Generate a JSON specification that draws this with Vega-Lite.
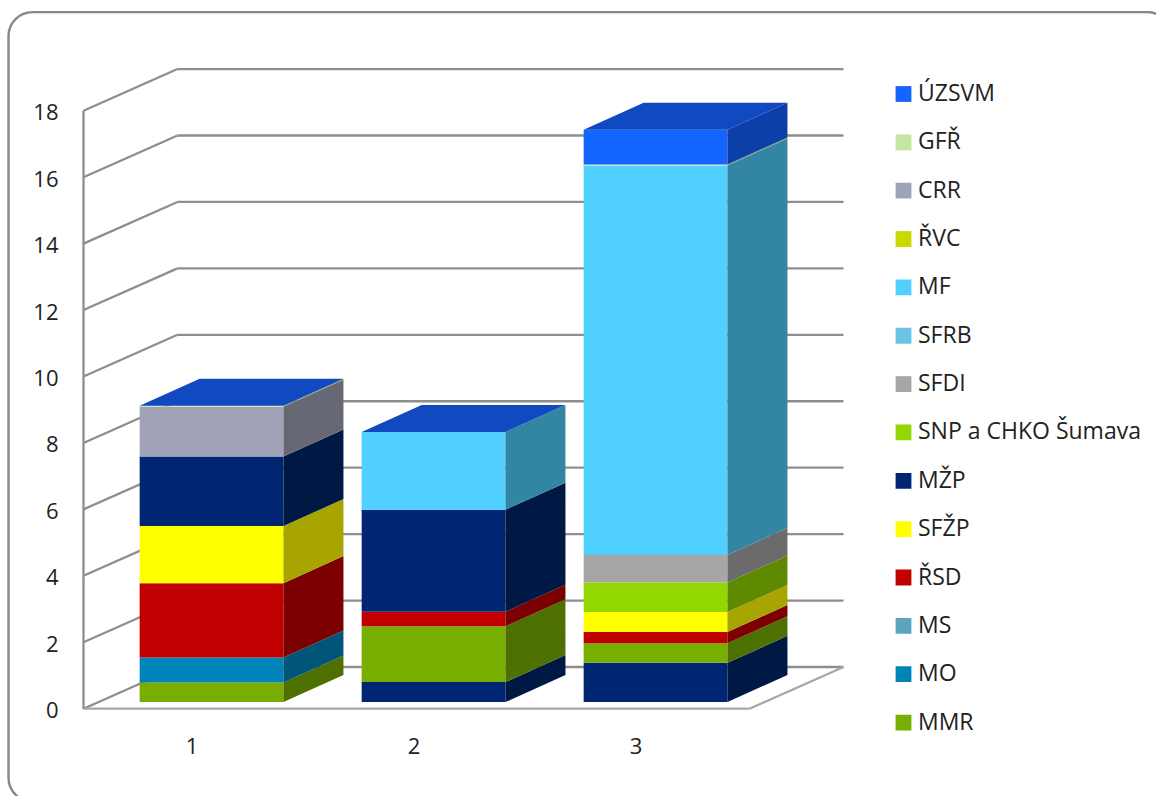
{"$schema":"https://vega.github.io/schema/vega-lite/v6.json","width":1156,"height":796,"padding":0,"autosize":"none","background":"#ffffff","config":{"view":{"stroke":null},"font":"Open Sans"},"layer":[
{"data":{"values":[{"name":"panel"}]},"transform":[{"calculate":"0.1622","as":"px1"},{"calculate":"5.40","as":"px2"},{"calculate":"20.97","as":"py1"},{"calculate":"-2.8","as":"py2"}],"mark":{"type":"rect","fill":"transparent","stroke":"#888888","strokeWidth":2.4,"cornerRadius":24,"clip":false},"encoding":{
"x":{"field":"px1","type":"quantitative","scale":{"domain":[0.1239,5.3311],"nice":false,"zero":false},"axis":{"values":[1,2,3],"format":"d","orient":"bottom","offset":-60,"labelPadding":0,"labelOffset":-3,"ticks":false,"domain":false,"grid":false,"title":null,"labelFontSize":22,"labelColor":"#222222","labelFont":"Open Sans","labelFlush":false,"labelOverlap":false,"labelBaseline":"top"}},
"x2":{"field":"px2"},
"y":{"field":"py1","type":"quantitative","scale":{"domain":[-2.628,21.334],"nice":false,"zero":false},"axis":{"values":[0,2,4,6,8,10,12,14,16,18],"format":"d","orient":"left","offset":-58,"labelPadding":0,"labelOffset":2,"ticks":false,"domain":false,"grid":false,"title":null,"labelFontSize":22,"labelColor":"#222222","labelFont":"Open Sans","labelOverlap":false}},
"y2":{"field":"py2"}}},
{"data":{"values":[{"tick":0},{"tick":2},{"tick":4},{"tick":6},{"tick":8},{"tick":10},{"tick":12},{"tick":14},{"tick":16},{"tick":18}]},
"transform":[{"calculate":"datum.tick+1.255","as":"back"},{"calculate":"0.5","as":"wl"},{"calculate":"0.9234","as":"wb"},{"calculate":"3.5","as":"wr"},{"calculate":"3.9234","as":"we"},{"calculate":"0","as":"base"}],
"layer":[
{"mark":{"type":"rule","stroke":"#8e8e8e","strokeWidth":2.3},"encoding":{"x":{"field":"wl","type":"quantitative","scale":{"domain":[0.1239,5.3311],"nice":false,"zero":false}},"x2":{"field":"wb"},"y":{"field":"tick","type":"quantitative","scale":{"domain":[-2.628,21.334],"nice":false,"zero":false}},"y2":{"field":"back"}}},
{"mark":{"type":"rule","stroke":"#8e8e8e","strokeWidth":2.3},"encoding":{"x":{"field":"wb","type":"quantitative","scale":{"domain":[0.1239,5.3311],"nice":false,"zero":false}},"x2":{"field":"we"},"y":{"field":"back","type":"quantitative","scale":{"domain":[-2.628,21.334],"nice":false,"zero":false}}}},
{"transform":[{"filter":"datum.tick===0"}],"mark":{"type":"rule","stroke":"#a8a8a8","strokeWidth":2.3},"encoding":{"x":{"field":"wl","type":"quantitative","scale":{"domain":[0.1239,5.3311],"nice":false,"zero":false}},"x2":{"field":"wr"},"y":{"field":"tick","type":"quantitative","scale":{"domain":[-2.628,21.334],"nice":false,"zero":false}}}},
{"transform":[{"filter":"datum.tick===0"}],"mark":{"type":"rule","stroke":"#a8a8a8","strokeWidth":2.3},"encoding":{"x":{"field":"wr","type":"quantitative","scale":{"domain":[0.1239,5.3311],"nice":false,"zero":false}},"x2":{"field":"we"},"y":{"field":"tick","type":"quantitative","scale":{"domain":[-2.628,21.334],"nice":false,"zero":false}},"y2":{"field":"back"}}},
{"transform":[{"filter":"datum.tick===18"}],"mark":{"type":"rule","stroke":"#8e8e8e","strokeWidth":2.3},"encoding":{"x":{"field":"wl","type":"quantitative","scale":{"domain":[0.1239,5.3311],"nice":false,"zero":false}},"y":{"field":"base","type":"quantitative","scale":{"domain":[-2.628,21.334],"nice":false,"zero":false}},"y2":{"field":"tick"}}}
]},
{"data":{"values":[
{"bar":1,"rank":1,"series":"MMR","value":0.59},
{"bar":1,"rank":2,"series":"MO","value":0.75},
{"bar":1,"rank":3,"series":"ŘSD","value":2.24},
{"bar":1,"rank":4,"series":"SFŽP","value":1.72},
{"bar":1,"rank":5,"series":"MŽP","value":2.09},
{"bar":1,"rank":6,"series":"CRR","value":1.5},
{"bar":1,"rank":7,"series":"GFŘ","value":0.03},
{"bar":1,"rank":8,"series":"ÚZSVM","value":0},
{"bar":2,"rank":0,"series":"MŽP","value":0.6},
{"bar":2,"rank":1,"series":"MMR","value":1.68},
{"bar":2,"rank":3,"series":"ŘSD","value":0.44},
{"bar":2,"rank":5,"series":"MŽP","value":3.07},
{"bar":2,"rank":6,"series":"MF","value":2.34},
{"bar":2,"rank":8,"series":"ÚZSVM","value":0},
{"bar":3,"rank":0,"series":"MŽP","value":1.18},
{"bar":3,"rank":1,"series":"MMR","value":0.59},
{"bar":3,"rank":3,"series":"ŘSD","value":0.34},
{"bar":3,"rank":4,"series":"SFŽP","value":0.6},
{"bar":3,"rank":5,"series":"SNP a CHKO Šumava","value":0.89},
{"bar":3,"rank":6,"series":"SFDI","value":0.83},
{"bar":3,"rank":7,"series":"MF","value":11.72},
{"bar":3,"rank":8,"series":"GFŘ","value":0.03},
{"bar":3,"rank":9,"series":"ÚZSVM","value":1.05}
]},
"transform":[
{"stack":"value","groupby":["bar"],"sort":[{"field":"rank","order":"ascending"}],"as":["low","high"]},
{"calculate":"datum.low+0.2","as":"y0"},
{"calculate":"datum.high+0.2","as":"y1"},
{"calculate":"datum.bar-0.247","as":"xl"},
{"calculate":"datum.bar+0.4007","as":"xr"}
],
"layer":[
{"mark":{"type":"rect"},"encoding":{
"x":{"field":"xl","type":"quantitative","scale":{"domain":[0.1239,5.3311],"nice":false,"zero":false}},"x2":{"field":"xr"},
"y":{"field":"y0","type":"quantitative","scale":{"domain":[-2.628,21.334],"nice":false,"zero":false}},"y2":{"field":"y1"},
"color":{"field":"series","type":"nominal","scale":{"domain":["ÚZSVM","GFŘ","CRR","ŘVC","MF","SFRB","SFDI","SNP a CHKO Šumava","MŽP","SFŽP","ŘSD","MS","MO","MMR"],"range":["#1464ff","#c3e6a4","#a0a2b8","#c8d800","#50d0ff","#6cc4e4","#a6a6a6","#92d800","#002673","#ffff00","#c00000","#5ca4c0","#0084b8","#78ae00"]},
"legend":{"orient":"none","legendX":892,"legendY":80,"title":null,"symbolType":"square","symbolSize":250,"symbolStrokeWidth":0,"labelFontSize":23,"labelFont":"Open Sans","labelColor":"#222222","labelOffset":3,"labelLimit":300,"rowPadding":20.35,"clipHeight":28,"padding":0}}}},
{"transform":[{"calculate":"[0,1]","as":"edge"},{"flatten":["edge"]},{"calculate":"datum.xr+datum.edge*0.2703","as":"xs"},{"calculate":"datum.y0+datum.edge*0.813","as":"ya"},{"calculate":"datum.y1+datum.edge*0.813","as":"yb"}],
"mark":{"type":"area"},"encoding":{
"x":{"field":"xs","type":"quantitative","scale":{"domain":[0.1239,5.3311],"nice":false,"zero":false}},
"y":{"field":"ya","type":"quantitative","stack":null,"scale":{"domain":[-2.628,21.334],"nice":false,"zero":false}},"y2":{"field":"yb"},
"detail":[{"field":"bar","type":"nominal"},{"field":"rank","type":"nominal"}],
"fill":{"field":"series","type":"nominal","legend":null,"scale":{"domain":["ÚZSVM","GFŘ","CRR","ŘVC","MF","SFRB","SFDI","SNP a CHKO Šumava","MŽP","SFŽP","ŘSD","MS","MO","MMR"],"range":["#0c3fa8","#7f9a5e","#666876","#8a9400","#3385a4","#477f94","#6b6b6b","#5e8a00","#001844","#a8a400","#7c0000","#3c6c7e","#005678","#4e7000"]}}}},
{"transform":[{"filter":"datum.series==='ÚZSVM'"},{"calculate":"[0,1]","as":"edge"},{"flatten":["edge"]},{"calculate":"datum.xl+datum.edge*0.2703","as":"xa"},{"calculate":"datum.xr+datum.edge*0.2703","as":"xb"},{"calculate":"datum.y1+datum.edge*0.813","as":"yt"}],
"mark":{"type":"area","orient":"horizontal","fill":"#1049c0"},"encoding":{
"x":{"field":"xa","type":"quantitative","stack":null,"scale":{"domain":[0.1239,5.3311],"nice":false,"zero":false}},"x2":{"field":"xb"},
"y":{"field":"yt","type":"quantitative","scale":{"domain":[-2.628,21.334],"nice":false,"zero":false}},
"detail":{"field":"bar","type":"nominal"}}}
]}
]}
